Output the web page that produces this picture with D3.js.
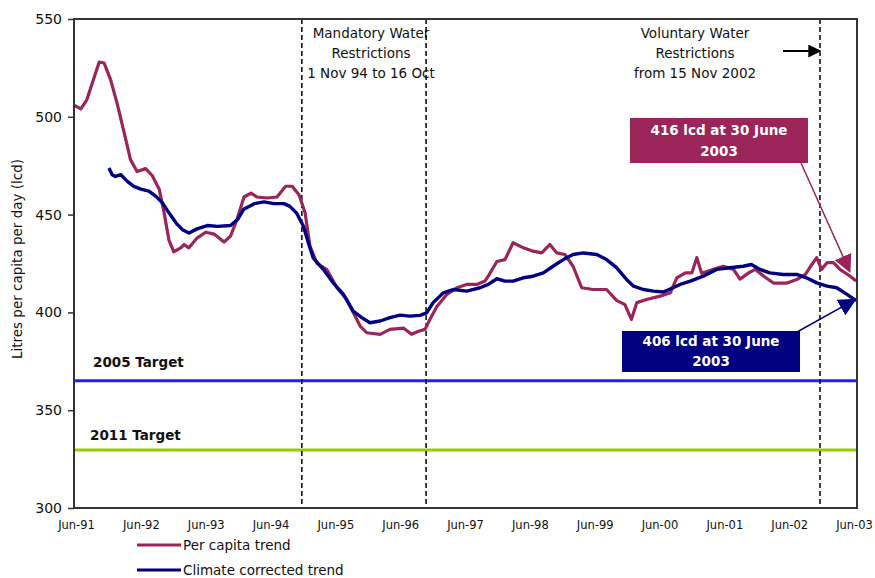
<!DOCTYPE html>
<html><head><meta charset="utf-8">
<script src="https://cdn.jsdelivr.net/npm/d3@7/dist/d3.min.js"></script>
<style>body{margin:0;background:#fff}svg{display:block;font-family:"DejaVu Sans",Verdana,sans-serif}</style>
</head><body>
<svg id="c" width="875" height="578"></svg>
<script>
// x in months since Jun-91
const xTickLabels = ["Jun-91","Jun-92","Jun-93","Jun-94","Jun-95","Jun-96","Jun-97","Jun-98","Jun-99","Jun-00","Jun-01","Jun-02","Jun-03"];
const yTicks = [300,350,400,450,500,550];
const perCapitaMonths = [-0.4,0.9,2.0,4.3,5.2,6.4,7.6,8.9,10.1,11.3,12.9,14.1,15.4,16.3,17.2,18.1,19.4,20.0,20.9,22.4,24.0,25.6,27.4,28.6,29.8,31.1,32.4,33.5,35.4,37.2,38.8,40.0,41.3,42.4,43.3,44.6,46.4,48.3,50.1,51.3,52.6,53.8,56.3,58.1,60.6,62.1,63.4,64.6,65.5,66.8,68.6,70.5,72.3,74.2,75.7,76.3,77.9,79.4,80.9,82.8,84.6,86.2,87.7,89.0,90.5,92.0,93.6,95.7,98.2,100.1,101.6,102.8,103.8,105.6,108.1,110.0,111.2,112.8,114.0,114.9,115.8,118.0,119.8,121.7,122.9,124.5,125.7,127.3,129.1,131.6,133.4,135.0,136.2,137.1,138.0,139.0,140.2,141.4,143.3,144.4];
const perCapitaValues = [506,504,508.7,528,527.5,519,507,492,478,472,473.5,470,463,451,437,431,433,434.7,433,438,441,440,436,439,447.5,459,461,459,458.5,459,464.5,464.5,460,451,434,425,422,412.6,406.6,400,393,389.6,388.8,391.3,392,388.8,390.4,391.3,396.4,403,409,412.6,414.3,414.3,416,418.5,426,427,435.6,433,431.3,430.4,434.7,430.4,429.6,423.6,412.6,411.7,411.7,406,404,396.4,405,406.6,408.3,410,417.7,420.2,420.2,428,420,422,423.6,422,417,420.2,422,418.5,415,415,416.8,419.4,424.5,428,422,425.4,425.4,422,418.5,416];
const climateMonths = [6.1,6.7,7.3,8.3,9.5,10.7,12.0,13.5,14.8,16.0,17.2,18.5,19.7,20.9,22.4,24.3,26.2,28.6,29.9,31.1,33.0,34.8,36.6,38.5,39.6,40.8,42.1,43.0,43.9,45.8,47.6,49.5,51.3,52.9,54.4,56.3,58.1,60.0,61.8,63.7,64.9,66.1,68.0,69.8,72.3,74.8,76.3,77.9,79.4,80.9,82.8,84.6,86.5,88.3,90.2,92.0,93.9,96.4,98.2,100.1,101.9,103.2,105.0,106.9,108.7,110.5,111.8,113.7,116.1,118.6,121.0,123.5,125.0,126.6,128.4,130.9,133.4,135.2,137.1,139.0,140.8,142.7,144.4];
const climateValues = [473.8,470.4,469.5,470.4,467,464.4,463,462,459.3,456,450.9,445.8,442.3,440.6,442.7,444.4,444,444.4,447.5,452.9,455.6,456.5,455.6,455.6,454.2,450.9,444,435.6,427.9,421.9,415.1,409.2,400.7,397.3,394.7,395.6,397.3,398.6,398.1,398.5,399.8,405,410,411.7,410.9,412.6,414.3,417.2,416,416,417.7,418.5,420.2,423.6,427,429.6,430.4,429.6,427,422.8,416.8,413.4,411.7,410.9,410.4,412.6,414.3,416,418.5,422,422.8,423.6,424.5,422,420.2,419.4,419.4,417.7,415.1,413.4,412.6,409.2,406];
const targetNames = ["2005 Target","2011 Target"];
const targetValues = [365,329.6];
const restrictionMonths = [41.8,64.8,137.7];
const seriesNames = ["Per capita trend","Climate corrected trend"];

const svg = d3.select("#c");
const L=74,R=857,T=19,B=508;
const x = d3.scaleLinear().domain([0,144]).range([76,854]);
const y = d3.scaleLinear().domain([300,550]).range([B,T]);
const red="#9b2458", navy="#000080";

// target lines
const tcol=["#1e1eff","#99cc00"];
targetValues.forEach((v,i)=>{
  svg.append("line").attr("x1",L).attr("x2",R).attr("y1",y(v)).attr("y2",y(v))
    .attr("stroke",tcol[i]).attr("stroke-width",3);
});
svg.append("text").attr("x",93).attr("y",y(targetValues[0])-14).text(targetNames[0])
  .attr("font-size",13.5).attr("font-weight","bold").attr("fill","#111");
svg.append("text").attr("x",90).attr("y",y(targetValues[1])-10).text(targetNames[1])
  .attr("font-size",13.5).attr("font-weight","bold").attr("fill","#111");

// restriction dashed lines
restrictionMonths.forEach(m=>{
  svg.append("line").attr("x1",x(m)).attr("x2",x(m)).attr("y1",T).attr("y2",B)
    .attr("stroke","#000").attr("stroke-width",1.5).attr("stroke-dasharray","5,3");
});

// series
const line = d3.line().x(d=>x(d[0])).y(d=>y(d[1]));
svg.append("path").datum(perCapitaMonths.map((m,i)=>[m,perCapitaValues[i]]))
  .attr("d",line).attr("fill","none").attr("stroke",red).attr("stroke-width",3.2).attr("stroke-linejoin","round");
svg.append("path").datum(climateMonths.map((m,i)=>[m,climateValues[i]]))
  .attr("d",line).attr("fill","none").attr("stroke",navy).attr("stroke-width",3.4).attr("stroke-linejoin","round");

// frame
svg.append("rect").attr("x",L).attr("y",T).attr("width",R-L).attr("height",B-T)
  .attr("fill","none").attr("stroke","#333").attr("stroke-width",2);

// axes
const ya = svg.append("g").attr("transform",`translate(${L},0)`)
  .call(d3.axisLeft(y).tickValues(yTicks).tickSize(6).tickPadding(6));
ya.select(".domain").remove();
ya.selectAll("text").attr("font-size",14).attr("fill","#111").attr("font-family","DejaVu Sans");
ya.selectAll("line").attr("stroke","#333").attr("stroke-width",1.5);

const xa = svg.append("g").attr("transform",`translate(0,${B})`)
  .call(d3.axisBottom(x).tickValues(d3.range(0,145,12)).tickFormat((d,i)=>xTickLabels[i]).tickSize(0).tickPadding(13));
xa.select(".domain").remove();
xa.selectAll("text").attr("font-size",11.5).attr("fill","#111").attr("font-family","DejaVu Sans");

svg.append("text").attr("transform","translate(22,259) rotate(-90)").attr("text-anchor","middle")
  .attr("font-size",13.5).attr("fill","#111").text("Litres per capita per day (lcd)");

// annotations
const ann1=["Mandatory Water","Restrictions","1 Nov 94 to 16 Oct"];
ann1.forEach((t,i)=>svg.append("text").attr("x",371).attr("y",38+i*20).attr("text-anchor","middle")
  .attr("font-size",13.5).attr("fill","#111").text(t));
const ann2=["Voluntary Water","Restrictions","from 15 Nov 2002"];
ann2.forEach((t,i)=>svg.append("text").attr("x",695).attr("y",38+i*20).attr("text-anchor","middle")
  .attr("font-size",13.5).attr("fill","#111").text(t));

const defs=svg.append("defs");
function marker(id,col,size){
  defs.append("marker").attr("id",id).attr("viewBox","0 0 10 10").attr("refX",9).attr("refY",5)
   .attr("markerWidth",size).attr("markerHeight",size).attr("markerUnits","userSpaceOnUse").attr("orient","auto")
   .append("path").attr("d","M0,0L10,5L0,10z").attr("fill",col);
}
marker("ak","#000",13); marker("ar",red,18); marker("an",navy,18);

svg.append("line").attr("x1",783).attr("y1",51).attr("x2",820).attr("y2",51)
  .attr("stroke","#000").attr("stroke-width",2).attr("marker-end","url(#ak)");

// value boxes
const lastPC = perCapitaValues[perCapitaValues.length-1];
const lastCC = climateValues[climateValues.length-1];
svg.append("line").attr("x1",801).attr("y1",163).attr("x2",x(143.2)).attr("y2",y(lastPC+5))
  .attr("stroke",red).attr("stroke-width",1.5).attr("marker-end","url(#ar)");
svg.append("rect").attr("x",630).attr("y",118).attr("width",178).attr("height",45).attr("fill",red);
[`${Math.round(lastPC)} lcd at 30 June`,"2003"].forEach((t,i)=>svg.append("text").attr("x",719).attr("y",135+i*21)
  .attr("text-anchor","middle").attr("font-size",13.5).attr("font-weight","bold").attr("fill","#fff").text(t));

svg.append("line").attr("x1",797).attr("y1",332).attr("x2",x(144.2)).attr("y2",y(lastCC+0.5))
  .attr("stroke",navy).attr("stroke-width",1.5).attr("marker-end","url(#an)");
svg.append("rect").attr("x",622).attr("y",331).attr("width",178).attr("height",41).attr("fill",navy);
[`${Math.round(lastCC)} lcd at 30 June`,"2003"].forEach((t,i)=>svg.append("text").attr("x",711).attr("y",346+i*20)
  .attr("text-anchor","middle").attr("font-size",13.5).attr("font-weight","bold").attr("fill","#fff").text(t));

// legend
[red,navy].forEach((c,i)=>{
  svg.append("line").attr("x1",137).attr("x2",181).attr("y1",545+i*25).attr("y2",545+i*25).attr("stroke",c).attr("stroke-width",3);
  svg.append("text").attr("x",183).attr("y",550+i*25).attr("font-size",13.5).attr("fill","#111").text(seriesNames[i]);
});
</script>
</body></html>
